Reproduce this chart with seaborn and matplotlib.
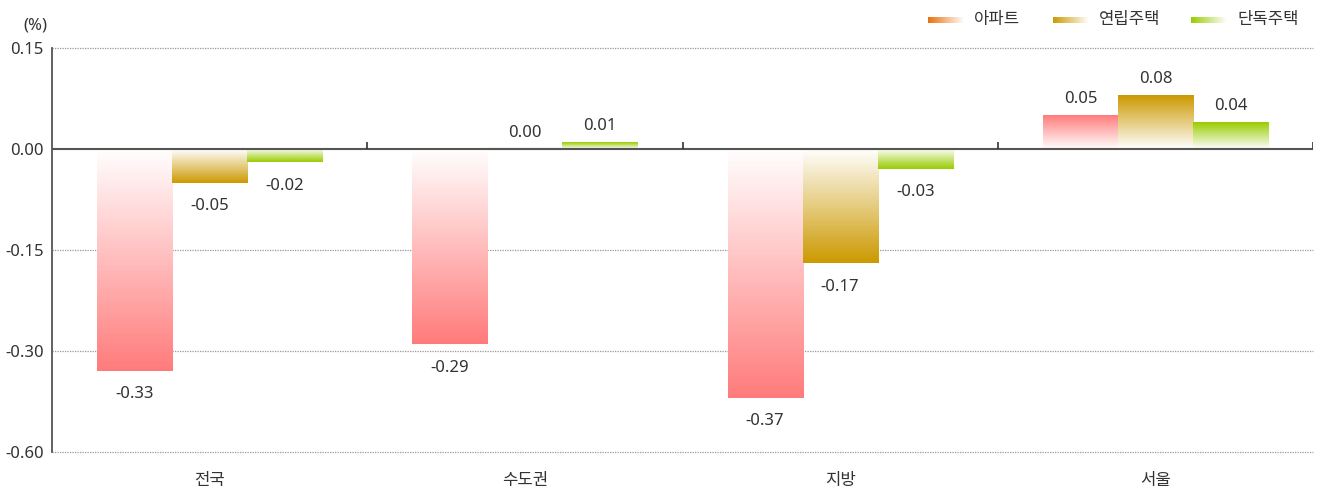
import numpy as np
import pandas as pd
import matplotlib
matplotlib.use('Agg')
import matplotlib.pyplot as plt
import matplotlib.colors as mcolors
import seaborn as sns

# 데이터
regions = ['전국', '수도권', '지방', '서울']
types = ['아파트', '연립주택', '단독주택']
apt = [-0.33, -0.29, -0.37, 0.05]
villa = [-0.05, 0.00, -0.17, 0.08]
house = [-0.02, 0.01, -0.03, 0.04]
ytick_vals = [0.15, 0.00, -0.15, -0.30, -0.45]
ytick_labels = ['0.15', '0.00', '-0.15', '-0.30', '-0.60']

bar_colors = ['#ff7b7b', '#cc9900', '#99cc00']
legend_colors = ['#e8700f', '#cc9900', '#99cc00']

df = pd.DataFrame({
    '지역': np.repeat(regions, 3),
    '유형': types * len(regions),
    '값': [v for trio in zip(apt, villa, house) for v in trio],
})

sns.set_theme(style='white')
plt.rcParams['font.family'] = ['Noto Sans', 'Noto Sans CJK KR', 'DejaVu Sans']
txt = '#333333'

fig = plt.figure(figsize=(13.27, 4.92), dpi=100)
ax = fig.add_axes([0.0392, 0.0813, 0.9503, 0.8211])

sns.barplot(data=df, x='지역', y='값', hue='유형', hue_order=types,
            order=regions, palette=bar_colors, width=0.714, gap=0,
            legend=False, ax=ax, errorbar=None)


def grad_img(color, n=256, reverse=False):
    c = np.array(mcolors.to_rgb(color))
    w = np.array([1.0, 1.0, 1.0])
    t = np.linspace(0, 1, n)[:, None]
    if reverse:
        t = t[::-1]
    img = w * (1 - t) + c * t
    return img[:, None, :]


# 막대를 그라데이션으로 교체
for i, p in enumerate(ax.patches):
    k = i // len(regions)
    color = bar_colors[k]
    x0 = p.get_x()
    w = p.get_width()
    h = p.get_height()
    p.set_facecolor('none')
    p.set_edgecolor('none')
    if abs(h) < 1e-9:
        ax.plot([x0, x0 + w], [0, 0], color=color, lw=1.5, zorder=3)
    elif h > 0:
        ax.imshow(grad_img(color), extent=[x0, x0 + w, 0, h], origin='lower',
                  aspect='auto', zorder=2)
    else:
        ax.imshow(grad_img(color, reverse=True), extent=[x0, x0 + w, h, 0],
                  origin='lower', aspect='auto', zorder=2)
    # 값 라벨
    cx = x0 + w / 2
    if h >= 0:
        ax.annotate(f'{h:.2f}', (cx, h), xytext=(0, 6), textcoords='offset points',
                    ha='center', va='bottom', fontsize=12, color=txt)
    else:
        ax.annotate(f'{h:.2f}', (cx, h), xytext=(0, -11), textcoords='offset points',
                    ha='center', va='top', fontsize=12, color=txt)

ax.set_xlim(-0.5, len(regions) - 0.5)
ax.set_ylim(-0.45, 0.15)
ax.set_yticks(ytick_vals)
ax.set_yticklabels(ytick_labels)
ax.tick_params(axis='y', length=0, pad=6, labelsize=12, labelcolor=txt)
ax.tick_params(axis='x', length=0, pad=15, labelsize=12, labelcolor=txt)
ax.set_xlabel('')
ax.set_ylabel('')

for v in ytick_vals:
    if v != 0:
        ax.axhline(v, color='#999999', lw=0.9, ls=(0, (1, 1)), zorder=1,
                   clip_on=False)
ax.axhline(0, color='#555555', lw=1.5, zorder=4)
ax.vlines(np.arange(len(regions)) + 0.5, 0, 0.011, color='#333333', lw=1.2, zorder=4)

for s in ['top', 'right', 'bottom']:
    ax.spines[s].set_visible(False)
ax.spines['left'].set_color('#555555')
ax.spines['left'].set_linewidth(1.3)

fig.text(35 / 1327, 1 - 26 / 492, '(%)', ha='center', va='center',
         fontsize=12, color=txt)

# 범례 (그라데이션 견본)
sw_x = [928, 1053, 1191]
for k, name in enumerate(types):
    lax = fig.add_axes([sw_x[k] / 1327, 1 - 23 / 492, 36 / 1327, 6 / 492])
    g = grad_img(legend_colors[k], reverse=True).transpose(1, 0, 2)
    lax.imshow(g, aspect='auto', extent=[0, 1, 0, 1])
    lax.axis('off')
    fig.text((sw_x[k] + 46) / 1327, 1 - 20 / 492, name, ha='left', va='center',
             fontsize=12, color=txt)

fig.savefig('out.png', dpi=100)
